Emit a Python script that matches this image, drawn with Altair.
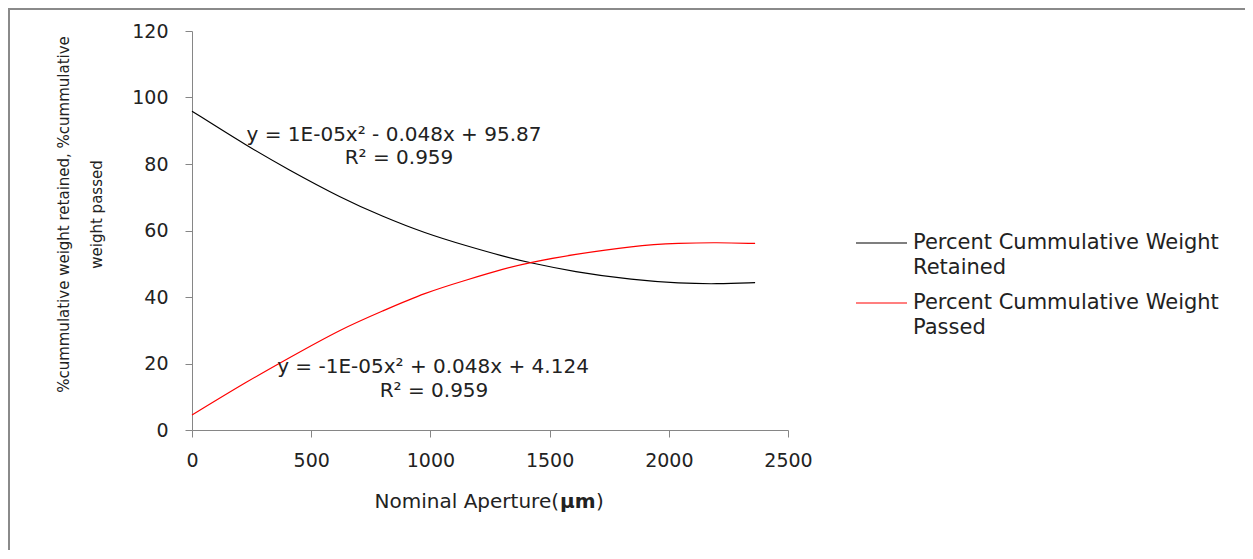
import altair as alt
import pandas as pd

# ---- data ----
aperture = [0, 236, 400, 628, 800, 977, 1150, 1313, 1411, 1600, 1851, 2047, 2200, 2362]
retained = [95.9, 85.2, 78.5, 69.7, 64.2, 59.2, 55.4, 52.1, 50.4, 47.6, 45.1, 44.1, 43.9, 44.3]
passed = [4.5, 14.8, 21.4, 30.5, 35.8, 41.3, 45.1, 48.6, 50.3, 52.8, 55.4, 56.2, 56.4, 56.1]

series_names = ["Percent Cummulative Weight Retained", "Percent Cummulative Weight Passed"]
series_colors = ["#000000", "#ff0000"]
legend_line1 = ["Percent Cummulative Weight", "Percent Cummulative Weight"]
legend_line2 = ["Retained", "Passed"]

x_ticks = [0, 500, 1000, 1500, 2000, 2500]
y_ticks = [0, 20, 40, 60, 80, 100, 120]

eq_retained = ["y = 1E-05x² - 0.048x + 95.87", "R² = 0.959"]
eq_passed = ["y = -1E-05x² + 0.048x + 4.124", "R² = 0.959"]

y_title = ["%cummulative weight retained, %cummulative", "weight passed"]
x_title_parts = ["Nominal Aperture(", "μm", ")"]

FONT = "DejaVu Sans"
TXT = "#222222"
AXC = "#868686"

rows = []
for name, vals in zip(series_names, [retained, passed]):
    for a, v in zip(aperture, vals):
        rows.append({"aperture": a, "value": v, "series": name})
df = pd.DataFrame(rows)

color_scale = alt.Scale(domain=series_names, range=series_colors)

lines = alt.Chart(df).mark_line(strokeWidth=1.2, interpolate="basis").encode(
    x=alt.X(
        "aperture:Q",
        scale=alt.Scale(domain=[0, 2500], nice=False),
        axis=alt.Axis(values=x_ticks, title=None, labelPadding=14, format="d", labelFlush=False),
    ),
    y=alt.Y(
        "value:Q",
        scale=alt.Scale(domain=[0, 120], nice=False),
        axis=alt.Axis(
            values=y_ticks,
            title=y_title,
            labelPadding=17,
            titleFont=FONT,
            titleFontSize=15,
            titleFontWeight="normal",
            titleColor=TXT,
            titleAngle=270,
            titleAlign="center",
            titleBaseline="middle",
            titleX=-129,
            titleY=183,
            titleLineHeight=33,
        ),
    ),
    color=alt.Color("series:N", scale=color_scale, legend=None),
)

def text_layer(text, x, y, size=19, align="center", weight="normal"):
    d = pd.DataFrame({"t": [text]})
    return alt.Chart(d).mark_text(
        font=FONT, fontSize=size, align=align, baseline="middle",
        color=TXT, fontWeight=weight,
    ).encode(x=alt.value(x), y=alt.value(y), text="t:N")

layers = [lines]

# equation annotations
layers.append(text_layer(eq_retained[0], 202, 104, size=20))
layers.append(text_layer(eq_retained[1], 207, 127, size=20))
layers.append(text_layer(eq_passed[0], 241, 336, size=20))
layers.append(text_layer(eq_passed[1], 242, 360, size=20))

# x axis title with bold unit
layers.append(text_layer(x_title_parts[0], 367, 471, size=20, align="right"))
layers.append(text_layer(x_title_parts[1], 368, 471, size=20, align="left", weight="bold"))
layers.append(text_layer(x_title_parts[2], 404, 471, size=20, align="left"))

# legend
leg_df = pd.DataFrame({"series": series_names, "l1": legend_line1, "l2": legend_line2})
for i, name in enumerate(series_names):
    yy = 212 + 60 * i
    sub = alt.Chart(leg_df).transform_filter(alt.datum.series == name)
    layers.append(
        sub.mark_rule(strokeWidth=1.2).encode(
            x=alt.value(664), x2=alt.value(715), y=alt.value(yy),
            color=alt.Color("series:N", scale=color_scale, legend=None),
        )
    )
    layers.append(
        sub.mark_text(font=FONT, fontSize=21, align="left", baseline="middle", color=TXT)
        .encode(x=alt.value(721), y=alt.value(yy), text="l1:N")
    )
    layers.append(
        sub.mark_text(font=FONT, fontSize=21, align="left", baseline="middle", color=TXT)
        .encode(x=alt.value(721), y=alt.value(yy + 25), text="l2:N")
    )

# outer chart frame (extends past the visible page on the right and bottom)
frame = alt.Chart(pd.DataFrame({"f": [0]})).mark_rect(
    fillOpacity=0, stroke="#8a8a8a", strokeWidth=2
).encode(x=alt.value(-183), x2=alt.value(1400), y=alt.value(-22), y2=alt.value(800))
layers.append(frame)

chart = alt.layer(*layers).properties(
    width=596,
    height=399,
    autosize="none",
    padding={"left": 184, "top": 23, "right": 457, "bottom": 120},
).configure_view(stroke=None).configure_axis(
    grid=False,
    domainColor=AXC,
    tickColor=AXC,
    tickSize=7,
    labelFont=FONT,
    labelFontSize=19,
    labelColor=TXT,
)

chart.save("out.html", embed_options={"renderer": "svg", "actions": False})
